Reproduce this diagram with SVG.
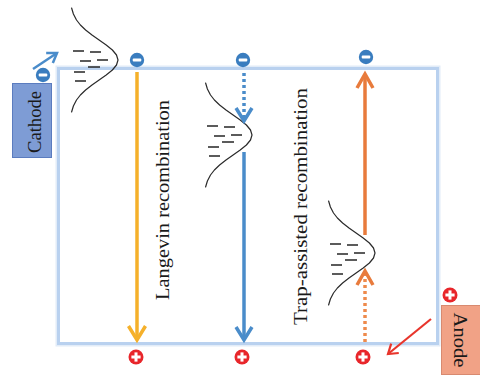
<svg xmlns="http://www.w3.org/2000/svg" xmlns:xlink="http://www.w3.org/1999/xlink" width="480" height="376" viewBox="0 0 480 376">
  <style>
    .lbl { font-family: "Liberation Serif", "Times New Roman", serif; font-size: 19px; fill: #1a1a1a; }
    .curve { fill: none; stroke: #2b2b2b; stroke-width: 1.2; stroke-linejoin: round; stroke-linecap: round; }
    .dash { fill: none; stroke: #262626; stroke-width: 1.3; }
    .minus-bg { fill: #3a7dbf; }
    .plus-bg { fill: #e8262b; }
    .mark { fill: #ffffff; }
  </style>
  <defs>
    <!-- density-of-states bell with trap levels -->
    <g id="dos">
      <path class="curve" d="M1.6,-52 L3.4,-46 L6.5,-40 L10.4,-35 L15.6,-30 L22,-25 L29.1,-20 L36.2,-15 L42.4,-10 L46.5,-5 L48,0 L46.5,5 L42.4,10 L36.2,15 L29.1,20 L22,25 L15.6,30 L10.4,35 L6.5,40 L3.4,46 L1.6,52"/>
      <path class="dash" d="M3,-9h11 M20,-8h11 M10,1h11 M27,0h11 M18,7h12 M4,12h11 M5,21h11"/>
    </g>
    <g id="electron">
      <circle class="minus-bg" r="7.2"/>
      <rect class="mark" x="-4.3" y="-1.6" width="8.6" height="3.2" rx="1"/>
    </g>
    <g id="hole">
      <circle class="plus-bg" r="7.5"/>
      <rect class="mark" x="-4.6" y="-1.5" width="9.2" height="3"/>
      <rect class="mark" x="-1.5" y="-4.6" width="3" height="9.2"/>
    </g>
    <marker id="hY" markerUnits="userSpaceOnUse" orient="auto" overflow="visible" markerWidth="1" markerHeight="1">
      <path d="M-14,-8.5 L0,0 L-14,8.5" fill="none" stroke="#f5b02a" stroke-width="3.5"/>
    </marker>
    <marker id="hB" markerUnits="userSpaceOnUse" orient="auto" overflow="visible" markerWidth="1" markerHeight="1">
      <path d="M-13,-8 L0,0 L-13,8" fill="none" stroke="#4a8cca" stroke-width="3.5"/>
    </marker>
    <marker id="hO" markerUnits="userSpaceOnUse" orient="auto" overflow="visible" markerWidth="1" markerHeight="1">
      <path d="M-14,-8 L0,0 L-14,8" fill="none" stroke="#e87b3c" stroke-width="3.5"/>
    </marker>
    <marker id="hS" markerUnits="userSpaceOnUse" orient="auto" overflow="visible" markerWidth="1" markerHeight="1">
      <path d="M-9,-6 L0,0 L-9,6" fill="none" stroke="#4a8cca" stroke-width="2.5"/>
    </marker>
    <marker id="hR" markerUnits="userSpaceOnUse" orient="auto" overflow="visible" markerWidth="1" markerHeight="1">
      <path d="M-9,-6 L0,0 L-9,6" fill="none" stroke="#e8352c" stroke-width="2.2"/>
    </marker>
  </defs>

  <rect width="480" height="376" fill="#ffffff"/>

  <!-- device frame -->
  <g id="frame">
    <rect x="58.5" y="68.5" width="379" height="275" fill="none" stroke="#e2ecf8" stroke-width="6"/>
    <rect x="58.5" y="68.5" width="379" height="275" fill="#ffffff" stroke="#b9d1ef" stroke-width="3"/>
  </g>

  <!-- electrodes -->
  <g id="cathode">
    <rect x="12.5" y="83.5" width="39" height="74" fill="#7e9cd5" stroke="#5b7cbf" stroke-width="1"/>
    <text class="lbl" transform="translate(41,122) rotate(-90)" text-anchor="middle" textLength="62" lengthAdjust="spacingAndGlyphs">Cathode</text>
  </g>
  <g id="anode">
    <rect x="441.5" y="305.5" width="40" height="69" fill="#f1a286" stroke="#d88a70" stroke-width="1"/>
    <text class="lbl" transform="translate(454,340) rotate(90)" text-anchor="middle" textLength="55" lengthAdjust="spacingAndGlyphs">Anode</text>
  </g>

  <!-- trap-state distributions -->
  <g id="dos-1"><use xlink:href="#dos" transform="translate(70,60)"/></g>
  <g id="dos-2"><use xlink:href="#dos" transform="translate(204,135)"/></g>
  <g id="dos-3"><use xlink:href="#dos" transform="translate(327,253)"/></g>

  <!-- recombination paths -->
  <g id="connectors" fill="none">
    <line x1="137" y1="72" x2="137" y2="340" stroke="#f5b02a" stroke-width="3.5" marker-end="url(#hY)"/>
    <line x1="244" y1="73" x2="244" y2="121" stroke="#4a8cca" stroke-width="3.5" stroke-dasharray="3 3" marker-end="url(#hB)"/>
    <line x1="244" y1="152" x2="244" y2="340" stroke="#4a8cca" stroke-width="3.5" marker-end="url(#hB)"/>
    <line x1="365" y1="235" x2="365" y2="74" stroke="#e87b3c" stroke-width="3.5" marker-end="url(#hO)"/>
    <line x1="365" y1="342" x2="365" y2="271" stroke="#ee8a4c" stroke-width="3.5" stroke-dasharray="3 3" marker-end="url(#hO)"/>
    <line x1="33" y1="69" x2="57" y2="53" stroke="#4a8cca" stroke-width="2.5" marker-end="url(#hS)"/>
    <line x1="431" y1="319" x2="388" y2="354" stroke="#e8352c" stroke-width="2.2" marker-end="url(#hR)"/>
  </g>

  <!-- carriers -->
  <g id="electrons">
    <use xlink:href="#electron" x="43" y="75"/>
    <use xlink:href="#electron" x="137" y="60"/>
    <use xlink:href="#electron" x="243" y="60"/>
    <use xlink:href="#electron" x="366" y="57"/>
  </g>
  <g id="holes">
    <use xlink:href="#hole" x="136" y="357"/>
    <use xlink:href="#hole" x="242" y="357"/>
    <use xlink:href="#hole" x="363" y="357"/>
    <use xlink:href="#hole" x="450" y="295"/>
  </g>

  <!-- mechanism labels -->
  <g id="labels">
    <text class="lbl" transform="translate(169,300) rotate(-90)" textLength="200" lengthAdjust="spacingAndGlyphs">Langevin recombination</text>
    <text class="lbl" transform="translate(307,325) rotate(-90)" textLength="237" lengthAdjust="spacingAndGlyphs">Trap-assisted recombination</text>
  </g>
</svg>
